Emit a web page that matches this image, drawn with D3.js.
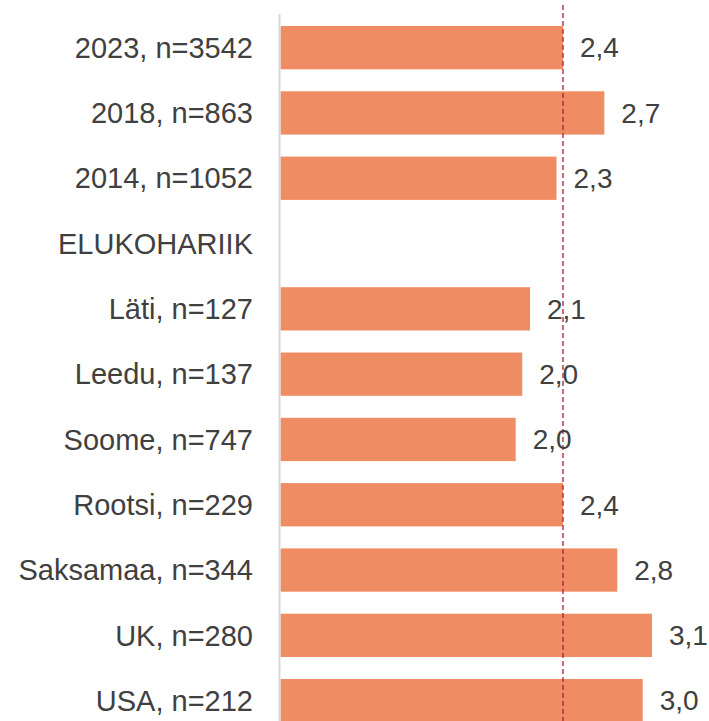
<!DOCTYPE html>
<html>
<head>
<meta charset="utf-8">
<script src="https://cdn.jsdelivr.net/npm/d3@7"></script>
<style>
  body { margin: 0; background: #fff; }
  svg { display: block; font-family: "Liberation Sans", Arial, sans-serif; }
</style>
</head>
<body>
<svg width="709" height="721"></svg>
<script>
const categories = ["2023, n=3542", "2018, n=863", "2014, n=1052", "ELUKOHARIIK",
  "Läti, n=127", "Leedu, n=137", "Soome, n=747", "Rootsi, n=229",
  "Saksamaa, n=344", "UK, n=280", "USA, n=212"];
const values = [2.364, 2.71, 2.31, null, 2.088, 2.023, 1.968, 2.364, 2.818, 3.109, 3.031];
const referenceValue = 2.364;

const svg = d3.select("svg");
const width = 709;
const height = 721;

const locale = d3.formatLocale({ decimal: ",", thousands: " ", grouping: [3], currency: ["", "€"] });
const fmt = locale.format(".1f");

const x = d3.scaleLinear()
  .domain([0, 3.5])
  .range([280.5, 280.5 + 3.5 * 119.5]);

const y = d3.scaleBand()
  .domain(categories)
  .range([15, 15 + 11 * 65.3])
  .paddingInner(0.337)
  .paddingOuter(0.1685);

const data = categories.map((c, i) => ({ name: c, value: values[i] }));

// bars
svg.append("g")
  .selectAll("rect")
  .data(data.filter(d => d.value != null))
  .join("rect")
  .attr("x", x(0))
  .attr("y", d => y(d.name))
  .attr("width", d => x(d.value) - x(0))
  .attr("height", y.bandwidth())
  .attr("fill", "#f08c63");

// category axis line
svg.append("line")
  .attr("x1", x(0) - 1)
  .attr("x2", x(0) - 1)
  .attr("y1", 14)
  .attr("y2", height)
  .attr("stroke", "#d9d9d9")
  .attr("stroke-width", 2);

// category labels
svg.append("g")
  .selectAll("text")
  .data(categories)
  .join("text")
  .attr("x", 253)
  .attr("y", d => y(d) + y.bandwidth() / 2)
  .attr("dy", "0.35em")
  .attr("text-anchor", "end")
  .attr("font-size", 29)
  .attr("fill", "#404040")
  .text(d => d);

// reference (dashed) line
svg.append("line")
  .attr("x1", x(referenceValue))
  .attr("x2", x(referenceValue))
  .attr("y1", 5)
  .attr("y2", height)
  .attr("stroke", "#a8202e")
  .attr("stroke-width", 1.3)
  .attr("stroke-dasharray", "5,3");

// value labels
svg.append("g")
  .selectAll("text")
  .data(data.filter(d => d.value != null))
  .join("text")
  .attr("x", d => x(d.value) + 17)
  .attr("y", d => y(d.name) + y.bandwidth() / 2)
  .attr("dy", "0.35em")
  .attr("font-size", 28)
  .attr("fill", "#404040")
  .text(d => fmt(d.value));
</script>
</body>
</html>
